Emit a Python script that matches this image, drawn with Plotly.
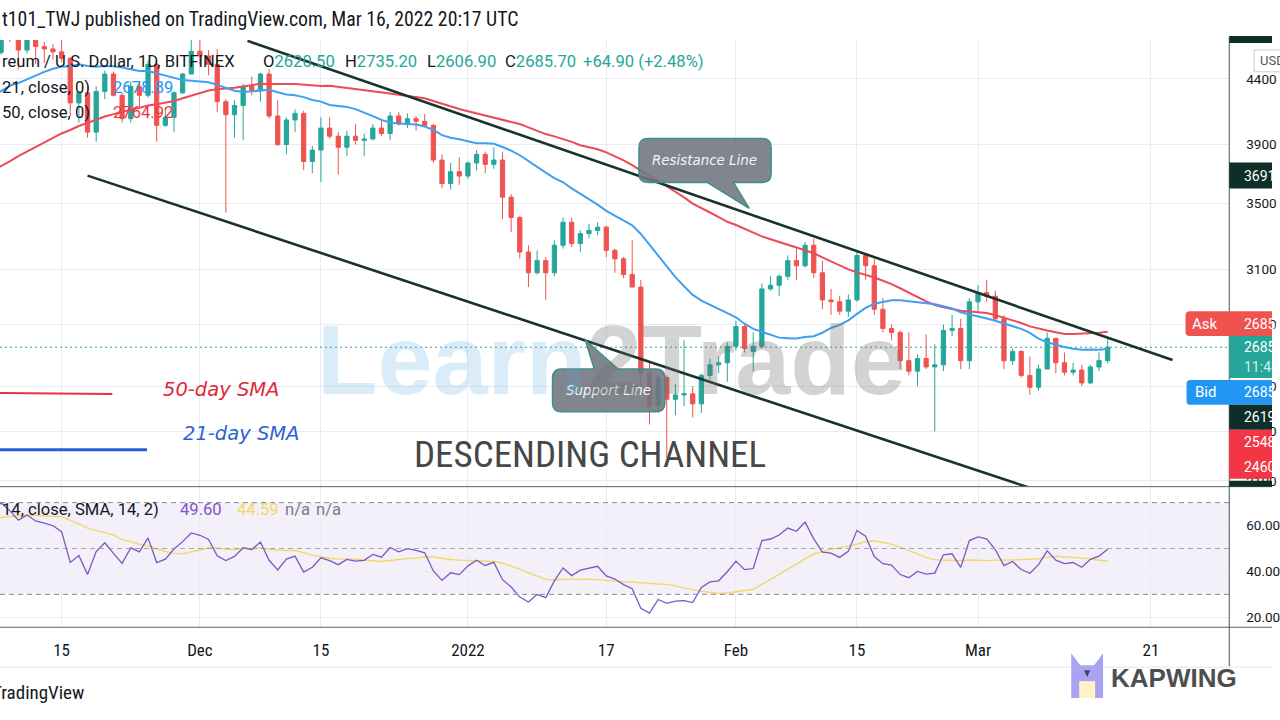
import math
import numpy as np
import pandas as pd
import plotly.graph_objects as go

# ---------------------------------------------------------------- data
# closes before the visible window, only used to warm up SMA / RSI
warmup_start = "2021-09-19"
warmup_close = [3330, 2975, 2750, 3080, 3150, 2930, 2925, 3060, 2930, 2810, 2850, 3000,
                3310, 3390, 3420, 3380, 3520, 3590, 3560, 3550, 3580, 3410,
                3540, 3490, 3610, 3790, 3860, 3830, 3850, 3750, 3880, 4170,
                4060, 3970, 4110, 4090, 4220, 4130, 3930, 4290, 4420, 4330, 4290,
                4320, 4590, 4610, 4530]

candle_start = "2021-11-05"
candle_open = [
    # Nov
    4530, 4480, 4520, 4620, 4810, 4735, 4640, 4730, 4670, 4650, 4625, 4570, 4210, 4290, 3990,
    4300, 4440, 4270, 4090, 4340, 4270, 4520, 4040, 4100, 4290, 4440,
    # Dec
    4630, 4590, 4520, 4220, 4120, 4190, 4340, 4310, 4440, 4110, 3900, 4080, 4130, 3780, 3860,
    4020, 3960, 3880, 3960, 3930, 3940, 4020, 3980, 4110, 4050, 4090, 4070, 4040, 3790, 3630, 3710,
    # Jan
    3680, 3770, 3830, 3760, 3790, 3540, 3410, 3200, 3080, 3150, 3080, 3240, 3380, 3250, 3310,
    3330, 3350, 3210, 3160, 3070, 3000, 2560, 2410, 2540, 2440, 2460, 2465, 2420, 2550, 2600, 2610,
    # Feb
    2690, 2790, 2665, 2690, 2990, 3010, 3060, 3150, 3120, 3240, 3080, 2930, 2920, 2870, 2930,
    3180, 3120, 2880, 2780, 2760, 2620, 2570, 2630, 2590, 2600, 2770, 2780, 2620,
    # Mar
    2920, 2970, 2950, 2830, 2620, 2665, 2550, 2495, 2580, 2730, 2610, 2565, 2575, 2515, 2590, 2620.5]
candle_high = [
    4570, 4530, 4640, 4820, 4840, 4868, 4780, 4800, 4710, 4690, 4770, 4580, 4300, 4340, 4340,
    4470, 4460, 4290, 4380, 4370, 4550, 4550, 4170, 4300, 4450, 4770,
    4780, 4640, 4650, 4240, 4230, 4360, 4420, 4450, 4480, 4230, 4100, 4160, 4150, 3890, 4100,
    4100, 3990, 4000, 4050, 3980, 4050, 4080, 4140, 4140, 4130, 4110, 4125, 4050, 3830, 3770, 3810,
    3780, 3860, 3850, 3880, 3850, 3560, 3420, 3240, 3210, 3170, 3270, 3410, 3410, 3330, 3370,
    3380, 3360, 3220, 3170, 3270, 3040, 2620, 2550, 2550, 2510, 2720, 2500, 2560, 2630, 2640, 2710,
    2820, 2800, 2760, 3020, 3060, 3070, 3180, 3220, 3260, 3280, 3150, 2990, 2950, 2960, 3200,
    3190, 3160, 2940, 2800, 2770, 2760, 2650, 2750, 2700, 2800, 2850, 2830, 2940,
    3010, 3040, 2980, 2850, 2680, 2670, 2640, 2600, 2760, 2730, 2660, 2610, 2600, 2600, 2660, 2735.2]
candle_low = [
    4440, 4330, 4500, 4600, 4710, 4480, 4610, 4520, 4530, 4560, 4540, 4110, 4060, 3950, 3920,
    4240, 4260, 4060, 4060, 4180, 4250, 3920, 4030, 3990, 4280, 4440,
    4520, 4430, 4140, 3440, 3950, 3930, 4270, 4220, 4090, 3890, 3830, 3990, 3720, 3700, 3640,
    3940, 3690, 3820, 3900, 3820, 3930, 3960, 3930, 4040, 4020, 4000, 4030, 3770, 3600, 3590, 3620,
    3660, 3720, 3700, 3730, 3400, 3320, 3160, 3000, 3070, 2930, 3060, 3220, 3230, 3200, 3280,
    3300, 3170, 3080, 3050, 3000, 2500, 2330, 2380, 2190, 2370, 2410, 2360, 2380, 2530, 2560, 2520,
    2670, 2660, 2570, 2680, 2980, 2950, 3040, 3040, 3110, 3050, 2880, 2850, 2850, 2840, 2920,
    3040, 2850, 2760, 2720, 2580, 2550, 2500, 2580, 2300, 2570, 2740, 2580, 2580,
    2860, 2920, 2820, 2580, 2600, 2540, 2460, 2480, 2580, 2560, 2550, 2550, 2500, 2510, 2570, 2606.9]
candle_close = [
    4480, 4520, 4620, 4810, 4735, 4640, 4730, 4670, 4650, 4625, 4570, 4210, 4290, 3990, 4300,
    4440, 4270, 4090, 4340, 4270, 4520, 4040, 4100, 4290, 4440, 4630,
    4590, 4520, 4220, 4120, 4190, 4340, 4310, 4440, 4110, 3900, 4080, 4130, 3780, 3860, 4020,
    3960, 3880, 3960, 3930, 3940, 4020, 3980, 4110, 4050, 4090, 4070, 4040, 3790, 3630, 3710, 3680,
    3770, 3830, 3760, 3790, 3540, 3410, 3200, 3080, 3150, 3080, 3240, 3380, 3250, 3310, 3330,
    3350, 3210, 3160, 3070, 3000, 2560, 2410, 2540, 2440, 2460, 2465, 2420, 2550, 2600, 2610, 2690,
    2790, 2680, 2690, 2990, 3010, 3060, 3150, 3120, 3240, 3080, 2930, 2920, 2870, 2930, 3180,
    3120, 2880, 2780, 2760, 2620, 2570, 2630, 2590, 2600, 2770, 2780, 2620, 2920,
    2970, 2950, 2830, 2620, 2665, 2550, 2495, 2580, 2730, 2610, 2565, 2575, 2515, 2590, 2620.5, 2685.7]

# trend-line drawings (start / end anchor points)
resistance_dates = ["2021-12-06 12:00", "2022-03-23 12:00"]
resistance_prices = [4720, 2623]
support_dates = ["2021-11-18 00:00", "2022-03-09 17:00"]
support_prices = [3683, 2044]

# axes
x_range = ["2021-11-07 21:00", "2022-03-30 01:30"]
price_range = [2078.0, 4728.0]
rsi_range = [15.65, 76.96]
date_tick_vals = ["2021-11-15", "2021-12-01", "2021-12-15", "2022-01-01", "2022-01-17",
                  "2022-02-01", "2022-02-15", "2022-03-01", "2022-03-21"]
date_tick_text = ["15", "Dec", "15", "2022", "17", "Feb", "15", "Mar", "21"]
price_tick_vals = [4400, 3900, 3500, 3100, 2800, 2500, 2300, 2100]
price_tick_text = ["4400", "3900", "3500", "3100", "2800", "2500", "2300", "2100"]
rsi_tick_vals = [60, 40, 20]
rsi_tick_text = ["60.00", "40.00", "20.00"]
rsi_levels = [70, 50, 30]

# ---------------------------------------------------------------- indicators
all_close = pd.Series(warmup_close + candle_close, dtype=float)
n_vis = len(candle_close)
dates = pd.date_range(candle_start, periods=n_vis, freq="D")

sma21 = all_close.rolling(21).mean().iloc[-n_vis:].values
sma50 = all_close.rolling(50).mean().iloc[-n_vis:].values


def rma(values, n):
    out = np.full(len(values), np.nan)
    out[n - 1] = np.mean(values[:n])
    for i in range(n, len(values)):
        out[i] = (out[i - 1] * (n - 1) + values[i]) / n
    return out


delta = all_close.diff().values[1:]
gain = np.clip(delta, 0, None)
loss = np.clip(-delta, 0, None)
ag = rma(gain, 14)
al = rma(loss, 14)
rsi_full = np.concatenate([[np.nan], 100 - 100 / (1 + ag / al)])
rsi_ma_full = pd.Series(rsi_full).rolling(14).mean().values
rsi = rsi_full[-n_vis:]
rsi_ma = rsi_ma_full[-n_vis:]

# ---------------------------------------------------------------- style
W, H = 1280, 720
PLOT_R = 1237
UP, DN = "#26a69a", "#ef5350"
GRID = "#e9edf3"
TXT = "#131722"
UI = "Roboto, Arial, sans-serif"
NARROW = "Liberation Sans Narrow, Roboto Condensed, Roboto, sans-serif"
DJ = "DejaVu Sans, Verdana, sans-serif"
LEG = 16.6


def X(px):
    return px / W


def Y(py):
    return 1 - py / H


shapes, annotations = [], []


def rect(x0, y0, x1, y1, fill, layer="above"):
    shapes.append(dict(type="rect", xref="paper", yref="paper", x0=X(x0), x1=X(x1),
                       y0=Y(y1), y1=Y(y0), fillcolor=fill, line=dict(width=0), layer=layer))


def pline(x0, y0, x1, y1, color, width=1, dash="solid"):
    shapes.append(dict(type="line", xref="paper", yref="paper", x0=X(x0), x1=X(x1),
                       y0=Y(y0), y1=Y(y1), line=dict(color=color, width=width, dash=dash),
                       layer="above"))


def text(s, px, py, size, color, family=UI, xanchor="left", **kw):
    extra = kw.pop("font", {})
    annotations.append(dict(text=s, x=X(px), y=Y(py), xref="paper", yref="paper",
                            xanchor=xanchor, yanchor="middle", showarrow=False,
                            font=dict(size=size, color=color, family=family, **extra), **kw))


def pt(x, y):
    return f"{X(x):.5f},{Y(y):.5f}"


def tag_path(x0, y0, x1, y1, r):
    # label with rounded left corners, square right side
    return (f"M {pt(x0 + r, y0)} L {pt(x1, y0)} L {pt(x1, y1)} L {pt(x0 + r, y1)} "
            f"Q {pt(x0, y1)} {pt(x0, y1 - r)} L {pt(x0, y0 + r)} Q {pt(x0, y0)} {pt(x0 + r, y0)} Z")


def callout(x0, y0, x1, y1, r, side, ba, bb, tip):
    p = [f"M {pt(x0 + r, y0)}"]
    if side == "top":
        p += [f"L {pt(ba, y0)}", f"L {pt(*tip)}", f"L {pt(bb, y0)}"]
    p += [f"L {pt(x1 - r, y0)}", f"Q {pt(x1, y0)} {pt(x1, y0 + r)}",
          f"L {pt(x1, y1 - r)}", f"Q {pt(x1, y1)} {pt(x1 - r, y1)}"]
    if side == "bottom":
        p += [f"L {pt(bb, y1)}", f"L {pt(*tip)}", f"L {pt(ba, y1)}"]
    p += [f"L {pt(x0 + r, y1)}", f"Q {pt(x0, y1)} {pt(x0, y1 - r)}",
          f"L {pt(x0, y0 + r)}", f"Q {pt(x0, y0)} {pt(x0 + r, y0)}", "Z"]
    shapes.append(dict(type="path", xref="paper", yref="paper", path=" ".join(p),
                       fillcolor="rgba(112,117,126,0.88)",
                       line=dict(color="#3f8f8c", width=1.5), layer="above"))


# ---------------------------------------------------------------- traces
fig = go.Figure()
fig.add_trace(go.Candlestick(
    x=dates, open=candle_open, high=candle_high, low=candle_low, close=candle_close,
    increasing=dict(line=dict(color=UP, width=1), fillcolor=UP),
    decreasing=dict(line=dict(color=DN, width=1), fillcolor=DN),
    xaxis="x", yaxis="y", hoverinfo="skip", showlegend=False))
fig.add_trace(go.Scatter(x=dates, y=sma50, mode="lines", line=dict(color="#ec4a57", width=2),
                         xaxis="x", yaxis="y", hoverinfo="skip"))
fig.add_trace(go.Scatter(x=dates, y=sma21, mode="lines", line=dict(color="#3f9ff0", width=2),
                         xaxis="x", yaxis="y", hoverinfo="skip"))
# last price line
fig.add_trace(go.Scatter(x=x_range, y=[candle_close[-1]] * 2, mode="lines",
                         line=dict(color=UP, width=1.2, dash="2px,3px"),
                         xaxis="x", yaxis="y", hoverinfo="skip"))
# channel trend lines
for dts, prs in ((resistance_dates, resistance_prices), (support_dates, support_prices)):
    fig.add_trace(go.Scatter(x=dts, y=prs, mode="lines", line=dict(color="#17332b", width=2.6),
                             xaxis="x", yaxis="y", hoverinfo="skip"))
# RSI pane
fig.add_trace(go.Scatter(x=dates, y=rsi_ma, mode="lines", line=dict(color="#f2d86a", width=1.4),
                         xaxis="x2", yaxis="y2", hoverinfo="skip"))
fig.add_trace(go.Scatter(x=dates, y=rsi, mode="lines", line=dict(color="#7e57c2", width=1.3),
                         xaxis="x2", yaxis="y2", hoverinfo="skip"))

# RSI band and levels
shapes.append(dict(type="rect", xref="paper", yref="y2", x0=0, x1=X(PLOT_R), y0=rsi_levels[2],
                   y1=rsi_levels[0], fillcolor="rgba(126,87,194,0.09)", line=dict(width=0),
                   layer="below"))
for lv, col in zip(rsi_levels, ["#8a8d96", "rgba(138,141,150,0.75)", "#8a8d96"]):
    shapes.append(dict(type="line", xref="paper", yref="y2", x0=0, x1=X(PLOT_R), y0=lv, y1=lv,
                       line=dict(color=col, width=1, dash="5px,4px"), layer="above"))

# ---------------------------------------------------------------- frame lines
pline(0, 488, W, 488, "#5d606b", 1)
pline(0, 629, W, 629, "#5d606b", 1)
pline(0, 669, W, 669, "#e3e6ec", 1)
pline(PLOT_R, 37, PLOT_R, 668, "#4f525d", 1)

# ---------------------------------------------------------------- price-axis tags
rect(PLOT_R, 36, W, 43, "#0d2f27")
shapes.append(dict(type="rect", xref="paper", yref="paper", x0=X(1262), x1=X(1290), y0=Y(72),
                   y1=Y(50), fillcolor="white", line=dict(color="#c9ccd3", width=1), layer="above"))
text("USD", 1266, 61, 13, "#50535e")
rect(PLOT_R, 163, W, 189, "#0d2f27")
text("3691", 1250, 176, 14, "white")
shapes.append(dict(type="path", xref="paper", yref="paper", path=tag_path(1193, 312, W, 337, 4),
                   fillcolor="#ef5350", line=dict(width=0), layer="above"))
text("Ask", 1213, 325, 15, "white", xanchor="center")
text("2685", 1250, 325, 14, "white")
rect(PLOT_R, 337, W, 379, "#26a69a")
text("2685", 1250, 348, 14, "white")
text("11:43", 1250, 368, 14, "rgba(255,255,255,0.8)")
shapes.append(dict(type="path", xref="paper", yref="paper", path=tag_path(1194, 381, W, 406, 4),
                   fillcolor="#2196f3", line=dict(width=0), layer="above"))
text("Bid", 1213, 393, 15, "white", xanchor="center")
text("2685", 1250, 393, 14, "white")
rect(PLOT_R, 406, W, 431, "#0d2f27")
text("2619", 1250, 418, 14, "white")
rect(PLOT_R, 431, W, 480, "#f23645")
text("2548", 1250, 443, 14, "white")
text("2460", 1250, 468, 14, "white")
rect(PLOT_R, 482, W, 488, "#0d2f27")

# ---------------------------------------------------------------- callouts
callout(643, 139, 776, 183, 9, "bottom", 712, 738, (754, 209))
text("<i>Resistance Line</i>", 709, 161, 13.4, "#f4f4f4", family=DJ, xanchor="center")
callout(556, 370, 669, 413, 9, "top", 598, 622, (589, 341))
text("<i>Support Line</i>", 612, 392, 13.4, "#f4f4f4", family=DJ, xanchor="center")

# ---------------------------------------------------------------- hand legend
pline(0, 394, 113, 395, "#e8303f", 2)
text("<i>50-day SMA</i>", 162, 391, 19.5, "#e0283c", family=DJ)
pline(0, 451, 148, 451, "#2a5bd7", 3)
text("<i>21-day SMA</i>", 182, 435, 19.5, "#2e63d6", family=DJ)
text("DESCENDING CHANNEL", 594, 456, 37, "#474747", family=NARROW, xanchor="center")

# watermark
text('<span style="color:rgba(80,170,225,0.22)">Learn</span>'
     '<span style="color:rgba(110,110,110,0.30)">2Trade</span>',
     615, 360, 99, "#cccccc", family="Liberation Sans, Arial, sans-serif",
     xanchor="center", font=dict(weight="bold"))

# ---------------------------------------------------------------- TradingView legends
text("t101_TWJ published on TradingView.com, Mar 16, 2022 20:17 UTC", 0, 20, 19.8, TXT,
     family=NARROW)
text("reum / U.S. Dollar, 1D, BITFINEX", 0, 62, LEG, TXT)
for lab, val, x in (("O", "2620.50", 263), ("H", "2735.20", 345), ("L", "2606.90", 428),
                    ("C", "2685.70", 506)):
    text(f'{lab}<span style="color:{UP}">{val}</span>', x, 62, LEG, TXT)
text("+64.90 (+2.48%)", 585, 62, LEG, UP)
text("21, close, 0)", 0, 88, LEG, TXT)
text("2678.89", 112, 88, LEG, "#2196f3")
text("50, close, 0)", 0, 113, LEG, TXT)
text("2764.92", 112, 113, LEG, "#f23645")
text("14, close, SMA, 14, 2)", 0, 511, LEG, TXT)
text("49.60", 179, 511, LEG, "#7e57c2")
text("44.59", 236, 511, LEG, "#f2d86a")
text("n/a", 285, 511, LEG, "#787b86")
text("n/a", 316, 511, LEG, "#787b86")
text("TradingView", -10, 694, 19, TXT, family=NARROW)

# ---------------------------------------------------------------- kapwing mark
shapes.append(dict(type="path", xref="paper", yref="paper",
                   path=f"M {pt(1078,700)} L {pt(1078,655)} L {pt(1087,667)} L {pt(1101,667)} "
                        f"L {pt(1110,655)} L {pt(1110,700)} Z",
                   fillcolor="#aaa3f3", line=dict(width=0), layer="above"))
rect(1086, 683, 1102, 700, "#fdf3c6")
shapes.append(dict(type="path", xref="paper", yref="paper",
                   path=f"M {pt(1091,672)} L {pt(1097,672)} L {pt(1094,679)} Z",
                   fillcolor="#444444", line=dict(width=0), layer="above"))
text("KAPWING", 1116, 680, 26, "#4e4e4e", family="Liberation Sans Narrow, Liberation Sans, Arial",
     font=dict(weight="bold"))

# ---------------------------------------------------------------- layout
fig.update_layout(
    width=W, height=H, margin=dict(l=0, r=0, t=0, b=0), autosize=False,
    paper_bgcolor="white", plot_bgcolor="rgba(0,0,0,0)", showlegend=False,
    shapes=shapes, annotations=annotations, hovermode=False,
    xaxis=dict(domain=[0, X(PLOT_R)], range=x_range, type="date", anchor="y",
               tickvals=date_tick_vals, showticklabels=False, showgrid=True, gridcolor=GRID,
               zeroline=False, showline=False, ticks="", rangeslider=dict(visible=False),
               fixedrange=True),
    yaxis=dict(domain=[Y(488), Y(40)], type="log",
               range=[math.log10(price_range[0]), math.log10(price_range[1])],
               side="right", anchor="x", tickvals=price_tick_vals, ticktext=price_tick_text,
               showgrid=True, gridcolor=GRID, zeroline=False, showline=False, ticks="",
               tickfont=dict(family=UI, size=13.5, color=TXT), ticklabelstandoff=16,
               fixedrange=True),
    xaxis2=dict(domain=[0, X(PLOT_R)], range=x_range, type="date", anchor="y2",
                tickvals=date_tick_vals, ticktext=date_tick_text, showgrid=True, gridcolor=GRID,
                zeroline=False, showline=False, ticks="",
                tickfont=dict(family=NARROW, size=17, color=TXT), ticklabelstandoff=11,
                fixedrange=True),
    yaxis2=dict(domain=[Y(629), Y(488)], range=rsi_range, side="right", anchor="x2",
                tickvals=rsi_tick_vals, ticktext=rsi_tick_text, showgrid=True, gridcolor=GRID,
                zeroline=False, showline=False, ticks="",
                tickfont=dict(family=UI, size=13.5, color=TXT), ticklabelstandoff=16,
                fixedrange=True),
)

# pin the 1280x720 figure to the top-left corner of the page
pin_script = """
var gd = document.getElementsByClassName('plotly-graph-div')[0];
document.documentElement.style.margin = '0px';
document.documentElement.style.overflow = 'hidden';
document.body.style.margin = '0px';
document.body.style.overflow = 'hidden';
gd.style.position = 'absolute';
gd.style.left = '0px';
gd.style.top = '0px';
"""

fig.write_html("out.html",
               config={"responsive": False, "displayModeBar": False, "staticPlot": True},
               post_script=pin_script)
